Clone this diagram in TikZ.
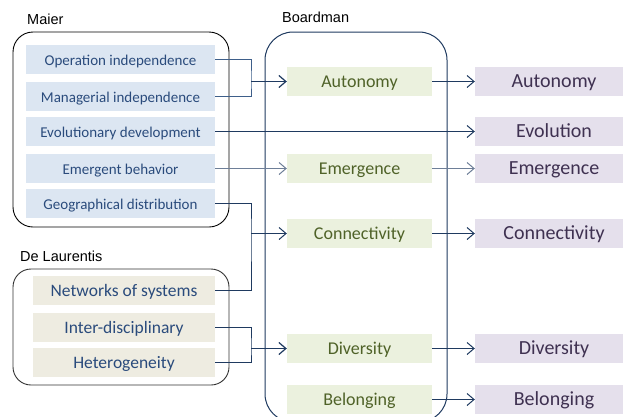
\documentclass[tikz,border=0pt]{standalone}
\usepackage{fontspec}
\setmainfont{Carlito}
\newfontfamily\arialfont{Liberation Sans}
\usetikzlibrary{arrows.meta}
\definecolor{bluefill}{HTML}{DCE6F2}
\definecolor{beigefill}{HTML}{EEECE1}
\definecolor{greenfill}{HTML}{EBF1DE}
\definecolor{purplefill}{HTML}{E5E0EC}
\definecolor{bluetext}{HTML}{2A4B7C}
\definecolor{greentext}{HTML}{4F6228}
\definecolor{purpletext}{HTML}{3F3151}
\definecolor{navy}{HTML}{1F3A60}
\definecolor{linkblue}{HTML}{3E5F8A}
\definecolor{greyline}{HTML}{6E7F98}
\tikzset{
  boxbase/.style={minimum height=29pt, inner sep=0pt, text height=15pt, text depth=3pt},
  bluebox/.style={boxbase, fill=bluefill, text=bluetext, minimum width=189pt, font=\fontsize{15}{18}\selectfont},
  beigebox/.style={boxbase, fill=beigefill, text=bluetext, minimum width=182pt, font=\fontsize{17.5}{20}\selectfont},
  greenbox/.style={boxbase, fill=greenfill, text=greentext, minimum width=145pt, font=\fontsize{18}{21}\selectfont},
  purplebox/.style={boxbase, fill=purplefill, text=purpletext, minimum width=158pt, font=\fontsize{20}{23}\selectfont},
  grouplabel/.style={anchor=west, inner sep=0pt, font=\arialfont\fontsize{14.5}{17}\selectfont},
  link/.style={draw=linkblue, line width=1pt},
  arr/.style={draw=navy, line width=1pt, -{Straight Barb[length=7pt,width=12pt,line width=1pt]}},
  thickarr/.style={draw=navy, line width=1.6pt, -{Straight Barb[length=7pt,width=12pt,line width=1.2pt]}},
  greyarr/.style={draw=greyline, line width=1.5pt, -{Straight Barb[length=7pt,width=12pt,line width=1pt]}},
}
\begin{document}
\begin{tikzpicture}[x=1pt,y=-1pt]
\useasboundingbox (0,0) rectangle (623,416);
% containers
\draw[black, line width=0.9pt, rounded corners=20pt] (13,32) rectangle (229,227);
\draw[black!80, line width=0.9pt, rounded corners=18pt] (13,269) rectangle (229,385);
\draw[navy, line width=1pt, rounded corners=28pt] (265,32) rectangle (447,422);
% labels
\node[grouplabel] (lmaier) at (27,19) {Maier};
\node[grouplabel] (lbord) at (282,17) {Boardman};
\node[grouplabel] (ldel) at (20,256) {De Laurentis};
% Maier
\node[bluebox] (op) at (120.5,59.5) {Operation independence};
\node[bluebox] (man) at (120.5,96.5) {Managerial independence};
\node[bluebox] (evo) at (120.5,131.5) {Evolutionary development};
\node[bluebox] (emb) at (120.5,168.5) {Emergent behavior};
\node[bluebox] (geo) at (120.5,203.5) {Geographical distribution};
% De Laurentis
\node[beigebox] (net) at (124,290.5) {Networks of systems};
\node[beigebox] (inter) at (124,327.5) {Inter-disciplinary};
\node[beigebox] (het) at (124,362.5) {Heterogeneity};
% Boardman
\node[greenbox] (gaut) at (359.5,81.5) {Autonomy};
\node[greenbox] (gem) at (359.5,168.5) {Emergence};
\node[greenbox] (gcon) at (359.5,233.5) {Connectivity};
\node[greenbox] (gdiv) at (359.5,348.5) {Diversity};
\node[greenbox] (gbel) at (359.5,399.5) {Belonging};
% right column
\node[purplebox] (paut) at (554,81.5) {Autonomy};
\node[purplebox] (pevo) at (554,131.5) {Evolution};
\node[purplebox] (pem) at (554,168.5) {Emergence};
\node[purplebox] (pcon) at (554,233.5) {Connectivity};
\node[purplebox] (pdiv) at (554,348.5) {Diversity};
\node[purplebox] (pbel) at (554,399.5) {Belonging};
% junctions
\coordinate (b1) at (251,81.5);
\coordinate (b2) at (251,233.5);
\coordinate (b3) at (251,348.5);
% connectors
\draw[link] (op.east) -| (b1) |- (man.east);
\draw[thickarr] (b1) -- (gaut.west);
\draw[arr] (evo.east) -- (pevo.west);
\draw[greyarr] (emb.east) -- (gem.west);
\draw[link, draw=navy] (geo.east) -| (b2) |- (net.east);
\draw[arr] (b2) -- (gcon.west);
\draw[link, draw=navy] (inter.east) -| (b3) |- (het.east);
\draw[thickarr] (b3) -- (gdiv.west);
\draw[arr] (gaut.east) -- (paut.west);
\draw[greyarr] (gem.east) -- (pem.west);
\draw[arr] (gcon.east) -- (pcon.west);
\draw[arr] (gdiv.east) -- (pdiv.west);
\draw[arr] (gbel.east) -- (pbel.west);
\end{tikzpicture}
\end{document}
